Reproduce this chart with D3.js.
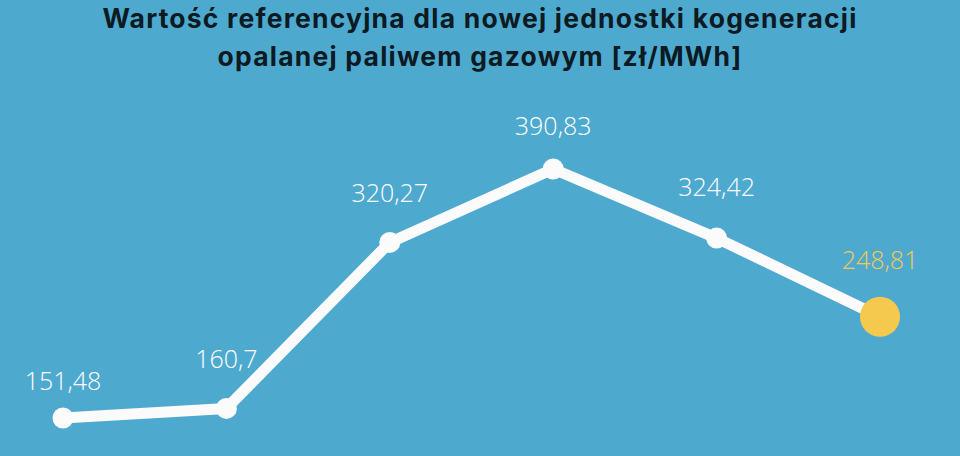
<!DOCTYPE html>
<html><head><meta charset="utf-8">
<script src="https://cdn.jsdelivr.net/npm/d3@7"></script>
<style>html,body{margin:0;padding:0;background:#4ea9cf;}svg{display:block;}</style>
</head><body>
<svg id="chart" width="960" height="456"></svg>
<script>
const categories = ["1", "2", "3", "4", "5", "6"];
const values = [151.48, 160.7, 320.27, 390.83, 324.42, 248.81];
const labels = ["151,48", "160,7", "320,27", "390,83", "324,42", "248,81"];
const labelDy = [-28, -40, -40, -34, -42, -48];
const titleLines = ["Wartość referencyjna dla nowej jednostki kogeneracji", "opalanej paliwem gazowym [zł/MWh]"];

const W = 960, H = 456;
const svg = d3.select("#chart");
svg.append("rect").attr("width", W).attr("height", H).attr("fill", "#4ea9cf");

const x = d3.scalePoint().domain(categories).range([63, 880]);
const y = d3.scaleLinear().domain([151.48, 390.83]).range([418, 169]);

const title = svg.append("g").selectAll("text").data(titleLines).join("text")
  .attr("x", W / 2).attr("y", (d, i) => 28 + i * 38)
  .attr("text-anchor", "middle")
  .attr("font-family", "Inter, 'Open Sans', sans-serif")
  .attr("font-weight", 700).attr("font-size", 26.5)
  .attr("fill", "#0c1a22")
  .text(d => d);
// widen letter spacing so the first line spans the same width as the original
const n0 = title.nodes()[0];
const w0 = n0.getComputedTextLength();
const ls = (754 - w0) / (titleLines[0].length - 1);
title.attr("letter-spacing", ls);

const line = d3.line().x((d, i) => x(categories[i])).y(d => y(d));
svg.append("path").datum(values)
  .attr("d", line).attr("fill", "none")
  .attr("stroke", "#fbfbfb").attr("stroke-width", 11)
  .attr("stroke-linejoin", "round").attr("stroke-linecap", "round");

const last = values.length - 1;
svg.append("g").selectAll("circle").data(values).join("circle")
  .attr("cx", (d, i) => x(categories[i])).attr("cy", d => y(d))
  .attr("r", (d, i) => i === last ? 20 : 10.5)
  .attr("fill", (d, i) => i === last ? "#f5c94e" : "#fbfbfb");

svg.append("g").selectAll("text").data(values).join("text")
  .attr("x", (d, i) => x(categories[i])).attr("y", (d, i) => y(d) + labelDy[i])
  .attr("text-anchor", "middle")
  .attr("font-family", "'Open Sans', sans-serif")
  .attr("font-weight", 300).attr("font-size", 25)
  .attr("fill", (d, i) => i === last ? "#f5c94e" : "#ffffff")
  .text((d, i) => labels[i]);
</script>
</body></html>
